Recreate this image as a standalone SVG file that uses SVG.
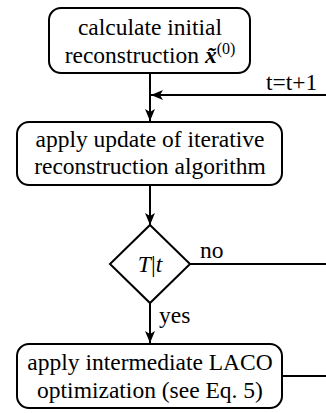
<svg xmlns="http://www.w3.org/2000/svg" width="326" height="413" viewBox="0 0 326 413">
<style>
.box{fill:#fff;stroke:#000;stroke-width:2}
.c{fill:none;stroke:#000;stroke-width:2}
text{font-family:Tinos,'Times New Roman',Times,'Noto Serif','Liberation Serif','DejaVu Serif',FreeSerif,serif;font-size:23.5px;fill:#000}
.t{text-anchor:middle}
</style>
<defs>
<marker id="ah" viewBox="0 0 12 10" refX="12" refY="5" markerWidth="12" markerHeight="10" markerUnits="userSpaceOnUse" orient="auto">
<path d="M0,0 L12,5 L0,10 L3,5 Z" fill="#000"/>
</marker>
</defs>
<g id="connectors">
<line class="c" x1="150" y1="73" x2="150" y2="121" marker-end="url(#ah)"/>
<line class="c" x1="326" y1="95" x2="151" y2="95" marker-end="url(#ah)"/>
<line class="c" x1="150" y1="185" x2="150" y2="225" marker-end="url(#ah)"/>
<line class="c" x1="190" y1="264" x2="326" y2="264"/>
<line class="c" x1="150" y1="303" x2="150" y2="343" marker-end="url(#ah)"/>
<line class="c" x1="282" y1="376" x2="326" y2="376"/>
<text x="266" y="90">t=t+1</text>
<text x="200" y="258">no</text>
<text x="159" y="323">yes</text>
</g>
<g id="init">
<rect class="box" x="49" y="8" width="201" height="65" rx="12"/>
<text class="t" x="150" y="35">calculate initial</text>
<text class="t" x="150" y="63">reconstruction <tspan font-weight="bold" font-style="italic">x̃</tspan><tspan font-size="16" dy="-9">(0)</tspan></text>
</g>
<g id="update">
<rect class="box" x="17" y="122" width="265" height="63" rx="12"/>
<text class="t" x="150" y="147">apply update of iterative</text>
<text class="t" x="150" y="174">reconstruction algorithm</text>
</g>
<g id="decision">
<polygon class="box" points="150,225 190,264 150,303 110,264"/>
<text class="t" x="150" y="272"><tspan font-style="italic">T</tspan>|<tspan font-style="italic">t</tspan></text>
</g>
<g id="laco">
<rect class="box" x="17" y="344" width="265" height="64" rx="12"/>
<text class="t" x="150" y="370">apply intermediate LACO</text>
<text class="t" x="150" y="398">optimization (see Eq. 5)</text>
</g>
</svg>
